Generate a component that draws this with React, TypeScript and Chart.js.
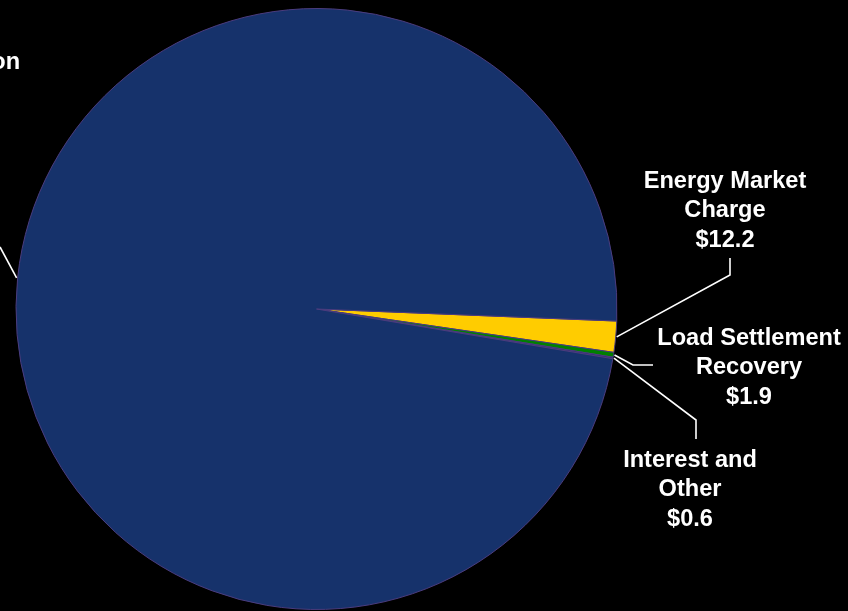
import React, { useEffect, useRef } from "react";
import Chart from "chart.js/auto";

// ---- data ----
const categories = ["Energy Market Charge", "Load Settlement Recovery", "Interest and Other", "Transmission"];
const categoryLines = [["Energy Market", "Charge"], ["Load Settlement", "Recovery"], ["Interest and", "Other"], ["Transmission"]];
const values = [12.2, 1.9, 0.6, 717.3];
const valueLabels = ["$12.2", "$1.9", "$0.6", "$717.3"];

// ---- styling / layout (not data) ----
const sliceColors = ["#FFCC00", "#008000", "#2B2A72", "#16326B"];
const borderColor = "#4B3C7E";
const labelCenters = [
  [725, 181],
  [749, 338],
  [690, 460],
  [-56, 62],
];
const leaderElbows = [
  [[730, 275], [730, 258]],
  [[633, 365], [653, 365]],
  [[696, 420], [696, 439]],
  [[0, 247]],
];

const labelPlugin = {
  id: "leaderLabels",
  afterDatasetsDraw(chart: any) {
    const ctx = chart.ctx;
    const meta = chart.getDatasetMeta(0);
    ctx.save();
    ctx.strokeStyle = "#FFFFFF";
    ctx.fillStyle = "#FFFFFF";
    ctx.lineWidth = 1.6;
    meta.data.forEach((arc: any, i: number) => {
      const p = arc.getProps(["x", "y", "startAngle", "endAngle", "outerRadius"], true);
      const mid = (p.startAngle + p.endAngle) / 2;
      const sx = p.x + Math.cos(mid) * (p.outerRadius + 1);
      const sy = p.y + Math.sin(mid) * (p.outerRadius + 1);
      ctx.beginPath();
      ctx.moveTo(sx, sy);
      leaderElbows[i].forEach(([ex, ey]) => ctx.lineTo(ex, ey));
      ctx.stroke();
      ctx.font = "bold 23.6px 'Liberation Sans', Arial, sans-serif";
      ctx.textAlign = "center";
      ctx.textBaseline = "middle";
      const lines = [...categoryLines[i], valueLabels[i]];
      const [cx, cy] = labelCenters[i];
      lines.forEach((t, k) => ctx.fillText(t, cx, cy + k * 29.5));
    });
    ctx.restore();
  },
};

export default function App() {
  const ref = useRef<HTMLCanvasElement>(null);
  useEffect(() => {
    document.body.style.margin = "0";
    document.body.style.background = "#000";
    const chart = new Chart(ref.current!, {
      type: "pie",
      data: {
        labels: categories,
        datasets: [
          {
            data: values,
            backgroundColor: sliceColors,
            borderColor: borderColor,
            borderWidth: 1,
          },
        ],
      },
      options: {
        animation: false,
        responsive: false,
        rotation: 92.3,
        layout: { padding: { left: 15, right: 230, top: 8, bottom: 1 } },
        plugins: {
          legend: { display: false },
          tooltip: { enabled: false },
        },
      },
      plugins: [labelPlugin],
    });
    return () => chart.destroy();
  }, []);
  return (
    <div style={{ position: "absolute", left: 0, top: 0, width: 848, height: 611, background: "#000" }}>
      <canvas ref={ref} width={848} height={611} style={{ display: "block" }} />
    </div>
  );
}
